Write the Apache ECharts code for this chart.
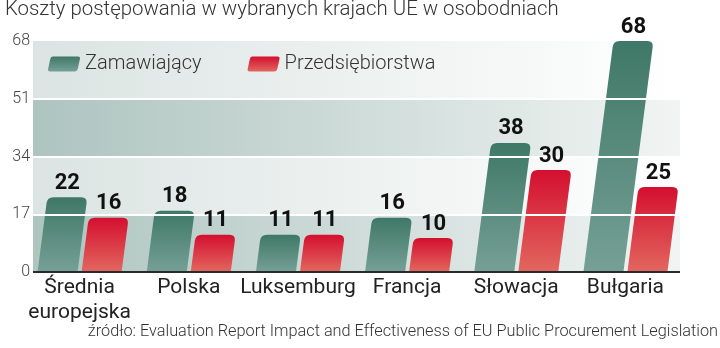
<!DOCTYPE html>
<html><head><meta charset="utf-8">
<script src="https://cdn.jsdelivr.net/npm/echarts@6/dist/echarts.min.js"></script>
<style>html,body{margin:0;padding:0;background:#fff}#c{width:720px;height:348px}</style>
</head><body><div id="c"></div>
<script>
const categories = ['Średnia\neuropejska', 'Polska', 'Luksemburg', 'Francja', 'Słowacja', 'Bułgaria'];
const zamawiajacy = [22, 18, 11, 16, 38, 68];
const przedsiebiorstwa = [16, 11, 11, 10, 30, 25];
const yTicks = [0, 17, 34, 51, 68];
const seriesNames = ['Zamawiający', 'Przedsiębiorstwa'];
const titleText = 'Koszty postępowania w wybranych krajach UE w osobodniach';
const sourceText = 'źródło: Evaluation Report Impact and Effectiveness of EU Public Procurement Legislation';

const FONT = 'Roboto';
const K = 0.13, BW = 40, GAP = 4;
const greenGrad = {type:'linear',x:0,y:0,x2:0,y2:1,colorStops:[{offset:0,color:'#3f7866'},{offset:1,color:'#76a096'}]};
const redGrad = {type:'linear',x:0,y:0,x2:0,y2:1,colorStops:[{offset:0,color:'#d40f2f'},{offset:1,color:'#e2675f'}]};

const bands = [];
for (let i = 0; i < yTicks.length - 1; i++) bands.push([yTicks[i], yTicks[i + 1], i % 2 === 0 ? 1 : 0]);

function renderBand(params, api) {
  const cs = params.coordSys;
  const lo = api.value(0), hi = api.value(1), dark = api.value(2);
  const y0 = api.coord([0, lo])[1], y1 = api.coord([0, hi])[1];
  const x0 = cs.x + 8, x1 = cs.x + cs.width;
  const stops = dark ? [{offset:0,color:'#adc4bf'},{offset:1,color:'#f1f4f3'}]
                     : [{offset:0,color:'#dbe4e2'},{offset:1,color:'#ffffff'}];
  return {type:'rect', silent:true, shape:{x:x0,y:y1,width:x1-x0,height:y0-y1},
          style:{fill:{type:'linear',x:0,y:0,x2:1,y2:0,colorStops:stops}}};
}
function renderBase(params, api) {
  const cs = params.coordSys;
  const y = api.coord([0, api.value(1)])[1];
  return {type:'line', silent:true, shape:{x1:cs.x+8,y1:y,x2:cs.x+cs.width,y2:y},
          style:{stroke:'#2a2a2a',lineWidth:2}};
}
function geom(side, api) {
  const idx = api.value(0), v = api.value(1);
  const base = api.coord([idx, 0]), top = api.coord([idx, v]);
  const cx = base[0], yb = base[1], yt = top[1];
  const h = yb - yt, s = h * K;
  const xl = side < 0 ? cx - GAP / 2 - BW : cx + GAP / 2, xr = xl + BW;
  return {v, yb, yt, h, s, xl, xr};
}
function makeBar(side, grad) {
  return function (params, api) {
    const g = geom(side, api);
    const r = Math.min(6, g.h / 2);
    const sr = g.s * (g.h - r) / g.h;
    const d = `M${g.xl},${g.yb} L${g.xl + sr},${g.yt + r} Q${g.xl + g.s},${g.yt} ${g.xl + g.s + r},${g.yt} L${g.xr + g.s - r},${g.yt} Q${g.xr + g.s},${g.yt} ${g.xr + sr},${g.yt + r} L${g.xr},${g.yb} Z`;
    return {type:'path', shape:{pathData:d}, style:{fill:grad}};
  };
}
function makeLabel(side) {
  return function (params, api) {
    const g = geom(side, api);
    return {type:'text', silent:true, style:{text:String(g.v), x:(g.xl + g.xr) / 2 + g.s, y:g.yt - 3, align:'center', verticalAlign:'bottom',
      font:'bold 22px ' + FONT, fill:'#111'}};
  };
}
const iconPath = 'path://M6,0 L30,0 Q32.5,0 32,2.5 L29.8,12.5 Q29.3,15 27,15 L2,15 Q-0.5,15 0,12.5 L2.2,2.5 Q2.7,0 5,0 Z';

const chart = echarts.init(document.getElementById('c'), null, {renderer:'canvas'});
chart.setOption({
  animation:false,
  backgroundColor:'#fff',
  title:{text:titleText, left:5, top:0, padding:0, textStyle:{fontFamily:FONT, fontSize:20.4, fontWeight:300, color:'#333'}},
  graphic:[{type:'text', right:2, top:324, style:{text:sourceText, font:'300 16.3px ' + FONT, fill:'#333'}}],
  legend:{left:48, top:54, itemWidth:32, itemHeight:15, itemGap:46, padding:0,
    data:[{name:seriesNames[0], icon:iconPath},{name:seriesNames[1], icon:iconPath}],
    textStyle:{fontFamily:FONT, fontSize:20, fontWeight:300, color:'#333'}},
  grid:{left:25, right:40, top:41, bottom:76},
  xAxis:{type:'category', data:categories, axisLine:{show:false}, axisTick:{show:false}, splitLine:{show:false},
    axisLabel:{interval:0, margin:3, fontFamily:FONT, fontSize:21, color:'#222', lineHeight:25}},
  yAxis:{type:'value', min:0, max:68, interval:17, z:3,
    axisLine:{show:false}, axisTick:{show:false},
    splitLine:{show:true, showMinLine:false, showMaxLine:false, lineStyle:{color:'#ffffff', width:2}},
    axisLabel:{margin:-5, align:'right', fontFamily:FONT, fontSize:16, fontWeight:300, color:'#444', padding:[0,0,6,0]}},
  series:[
    {type:'custom', name:'bands', z:1, renderItem:renderBand, data:bands, silent:true},
    {type:'custom', name:seriesNames[0], z:2, renderItem:makeBar(-1, greenGrad), itemStyle:{color:greenGrad},
      data:zamawiajacy.map((v, i) => [i, v])},
    {type:'custom', name:seriesNames[1], z:2, renderItem:makeBar(1, redGrad), itemStyle:{color:redGrad},
      data:przedsiebiorstwa.map((v, i) => [i, v])},
    {type:'custom', name:'labels0', z:5, renderItem:makeLabel(-1), silent:true, data:zamawiajacy.map((v, i) => [i, v])},
    {type:'custom', name:'labels1', z:5, renderItem:makeLabel(1), silent:true, data:przedsiebiorstwa.map((v, i) => [i, v])},
    {type:'custom', name:'base', z:4, renderItem:renderBase, data:[[0, yTicks[0]]], silent:true}
  ]
});
</script></body></html>
